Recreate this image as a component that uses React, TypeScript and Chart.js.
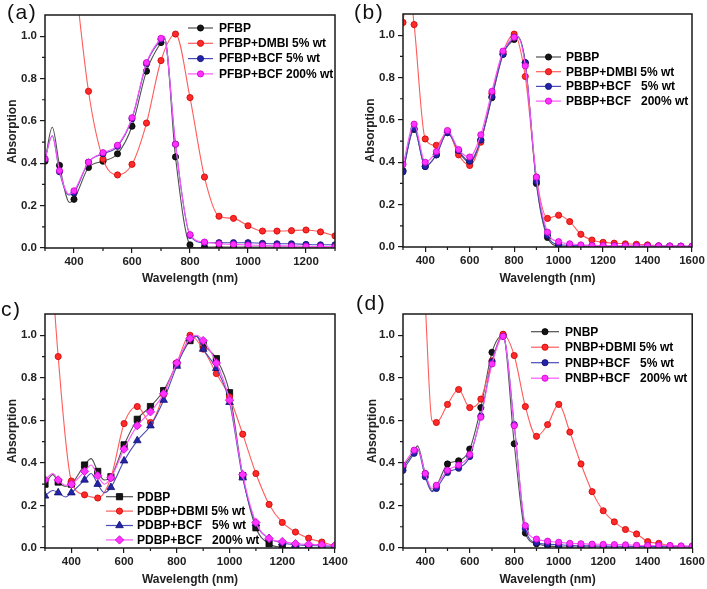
import React, { useEffect, useRef } from "react";
import { Chart, registerables } from "chart.js";
import { drawPoint } from "chart.js/helpers";
Chart.register(...registerables);

const FONT = "'Liberation Sans', Arial, sans-serif";
const AXIS = "#1a1a1a";
const TXT = "#222222";

// ---------- tick values ----------
const yTickVals = [0, 0.2, 0.4, 0.6, 0.8, 1.0];
const yMinorVals = [0.1, 0.3, 0.5, 0.7, 0.9];
const aXTicks = [400, 600, 800, 1000, 1200];
const aXMinor = [300, 500, 700, 900, 1100, 1300];
const bXTicks = [400, 600, 800, 1000, 1200, 1400, 1600];
const bXMinor = [300, 500, 700, 900, 1100, 1300, 1500];
const cXTicks = [400, 600, 800, 1000, 1200, 1400];
const cXMinor = [300, 500, 700, 900, 1100, 1300];
const dXTicks = [400, 600, 800, 1000, 1200, 1400, 1600];
const dXMinor = [300, 500, 700, 900, 1100, 1300, 1500];

// ---------- panel (a) ----------
const pfbpX = [300, 325, 350, 385, 400, 450, 500, 550, 600, 650, 700, 712, 750, 800, 825, 850, 900, 950, 1000, 1050, 1100, 1150, 1200, 1250, 1300];
const pfbpY = [0.41, 0.57, 0.39, 0.215, 0.23, 0.38, 0.41, 0.445, 0.575, 0.835, 0.97, 0.99, 0.43, 0.015, 0.0, 0.004, 0.004, 0.004, 0.004, 0.004, 0.004, 0.004, 0.004, 0.004, 0.004];
const pfbpDmbiX = [400, 450, 500, 550, 600, 650, 700, 750, 800, 850, 900, 950, 1000, 1050, 1100, 1150, 1200, 1250, 1300];
const pfbpDmbiY = [1.32, 0.74, 0.42, 0.345, 0.395, 0.59, 0.885, 1.01, 0.71, 0.335, 0.15, 0.14, 0.105, 0.08, 0.08, 0.082, 0.085, 0.076, 0.057];
const pfbpBcfX = [300, 325, 350, 382, 400, 450, 500, 550, 600, 650, 700, 710, 750, 800, 850, 900, 950, 1000, 1050, 1100, 1150, 1200, 1250, 1300];
const pfbpBcf5Y = [0.42, 0.53, 0.36, 0.25, 0.26, 0.405, 0.445, 0.48, 0.61, 0.87, 0.985, 1.0, 0.49, 0.06, 0.025, 0.025, 0.025, 0.025, 0.022, 0.02, 0.02, 0.017, 0.015, 0.015];
const pfbpBcf200Y = [0.42, 0.53, 0.365, 0.255, 0.27, 0.405, 0.45, 0.485, 0.615, 0.875, 0.99, 1.0, 0.49, 0.063, 0.028, 0.02, 0.017, 0.014, 0.012, 0.01, 0.01, 0.008, 0.007, 0.006];

// ---------- panel (b) ----------
const pbbpX = [300, 350, 400, 450, 500, 550, 600, 650, 700, 750, 800, 815, 850, 900, 950, 1000, 1050, 1100, 1150, 1200, 1250, 1300, 1350, 1400, 1450, 1500, 1550, 1600];
const pbbpY = [0.36, 0.555, 0.38, 0.435, 0.54, 0.45, 0.40, 0.505, 0.705, 0.91, 0.98, 0.99, 0.87, 0.30, 0.045, 0.005, 0.003, 0.002, 0.002, 0.002, 0.002, 0.002, 0.002, 0.002, 0.002, 0.002, 0.002, 0.002];
const pbbpDmbiX = [300, 325, 350, 400, 450, 500, 550, 600, 650, 700, 750, 800, 850, 900, 950, 1000, 1050, 1100, 1150, 1200, 1250, 1300, 1350, 1400, 1450, 1500, 1550, 1600];
const pbbpDmbiY = [1.06, 1.25, 1.05, 0.51, 0.48, 0.545, 0.435, 0.385, 0.495, 0.725, 0.92, 1.005, 0.805, 0.33, 0.135, 0.15, 0.12, 0.06, 0.033, 0.022, 0.018, 0.015, 0.013, 0.01, 0.006, 0.004, 0.003, 0.002];
const pbbpBcf5Y = [0.355, 0.56, 0.38, 0.435, 0.54, 0.455, 0.405, 0.505, 0.71, 0.91, 0.99, 0.995, 0.87, 0.31, 0.055, 0.012, 0.008, 0.006, 0.005, 0.005, 0.005, 0.004, 0.004, 0.004, 0.004, 0.004, 0.004, 0.003];
const pbbpBcf200Y = [0.39, 0.58, 0.40, 0.45, 0.55, 0.46, 0.425, 0.53, 0.735, 0.925, 0.99, 0.995, 0.855, 0.33, 0.07, 0.025, 0.015, 0.01, 0.008, 0.007, 0.006, 0.006, 0.005, 0.005, 0.005, 0.005, 0.004, 0.004];

// ---------- panel (c) ----------
const pdbpX = [300, 330, 350, 380, 400, 450, 475, 500, 525, 550, 600, 650, 700, 750, 800, 850, 875, 900, 950, 1000, 1050, 1100, 1150, 1200, 1250, 1300, 1350, 1400];
const pdbpY = [0.30, 0.345, 0.31, 0.29, 0.30, 0.39, 0.42, 0.36, 0.32, 0.335, 0.485, 0.605, 0.665, 0.74, 0.865, 0.975, 0.995, 0.955, 0.89, 0.73, 0.34, 0.095, 0.02, 0.003, 0.0, 0.0, 0.0, 0.0];
const pdbpDbmiX = [300, 350, 400, 450, 500, 550, 600, 650, 700, 750, 800, 850, 900, 950, 1000, 1050, 1100, 1150, 1200, 1250, 1300, 1350, 1400];
const pdbpDbmiY = [1.8, 0.90, 0.315, 0.25, 0.235, 0.33, 0.585, 0.665, 0.59, 0.72, 0.87, 1.0, 0.935, 0.82, 0.71, 0.535, 0.35, 0.205, 0.12, 0.075, 0.046, 0.028, 0.01];
const pdbpBcfX = [300, 330, 350, 378, 400, 450, 475, 500, 525, 550, 600, 650, 700, 750, 800, 850, 875, 900, 950, 1000, 1050, 1100, 1150, 1200, 1250, 1300, 1350, 1400];
const pdbpBcf5Y = [0.245, 0.27, 0.26, 0.24, 0.26, 0.32, 0.35, 0.30, 0.26, 0.285, 0.41, 0.505, 0.575, 0.695, 0.855, 0.985, 0.995, 0.935, 0.845, 0.685, 0.33, 0.115, 0.045, 0.025, 0.015, 0.012, 0.01, 0.008];
const pdbpBcf200Y = [0.32, 0.35, 0.32, 0.295, 0.30, 0.36, 0.39, 0.34, 0.30, 0.33, 0.465, 0.575, 0.64, 0.725, 0.87, 0.985, 1.0, 0.975, 0.87, 0.695, 0.345, 0.12, 0.045, 0.03, 0.02, 0.017, 0.015, 0.012];

// ---------- panel (d) ----------
const pnbpX = [300, 350, 365, 400, 430, 450, 500, 550, 600, 650, 700, 750, 800, 850, 900, 950, 1000, 1050, 1100, 1150, 1200, 1250, 1300, 1350, 1400, 1450, 1500, 1550, 1600];
const pnbpY = [0.38, 0.455, 0.48, 0.35, 0.27, 0.29, 0.395, 0.41, 0.465, 0.66, 0.92, 1.0, 0.49, 0.07, 0.02, 0.01, 0.006, 0.005, 0.005, 0.005, 0.005, 0.005, 0.005, 0.005, 0.005, 0.005, 0.005, 0.005, 0.005];
const pnbpDbmiX = [400, 430, 450, 500, 550, 600, 650, 700, 750, 800, 850, 900, 950, 1000, 1050, 1100, 1150, 1200, 1250, 1300, 1350, 1400, 1450, 1500, 1550, 1600];
const pnbpDbmiY = [1.15, 0.6, 0.59, 0.675, 0.745, 0.66, 0.70, 0.88, 1.005, 0.905, 0.665, 0.525, 0.58, 0.675, 0.545, 0.395, 0.265, 0.175, 0.123, 0.087, 0.066, 0.03, 0.022, 0.01, 0.005, 0.003];
const pnbpBcf5Y = [0.365, 0.445, 0.465, 0.335, 0.265, 0.28, 0.355, 0.375, 0.43, 0.62, 0.875, 0.995, 0.58, 0.09, 0.025, 0.018, 0.015, 0.012, 0.01, 0.01, 0.009, 0.008, 0.008, 0.007, 0.007, 0.006, 0.006, 0.005, 0.005];
const pnbpBcf200Y = [0.39, 0.46, 0.47, 0.35, 0.28, 0.295, 0.365, 0.39, 0.44, 0.615, 0.865, 0.995, 0.575, 0.105, 0.042, 0.032, 0.027, 0.022, 0.02, 0.018, 0.017, 0.016, 0.015, 0.013, 0.012, 0.012, 0.012, 0.01, 0.01];

const C = {
  black: { marker: "#151515", edge: "#000000", line: "#505050" },
  red: { marker: "#ff2b2b", edge: "#cc0000", line: "#ff5c5c" },
  blue: { marker: "#2424aa", edge: "#101070", line: "#4a4ab8" },
  magenta: { marker: "#ff33ff", edge: "#cc00cc", line: "#ff55ff" },
};

type Col = { marker: string; edge: string; line: string };
type S = { label: string; x: number[]; y: number[]; c: Col; style: string; r: number };
type Panel = {
  left: number; top: number; w: number; h: number;
  xMin: number; xMax: number; xTicks: number[]; xMinor: number[];
  yW: number; yPad: number; xH: number; xPad: number; padTop: number; padRight: number;
  lg: { lineX: number; lineLen: number; textX: number; y0: number; step: number };
  series: S[];
};

const R = 3.1;

const panels: Panel[] = [
  {
    left: 0, top: 0, w: 354, h: 292, xMin: 300, xMax: 1300, xTicks: aXTicks, xMinor: aXMinor,
    yW: 45, yPad: 5, xH: 44, xPad: 6, padTop: 15, padRight: 19,
    lg: { lineX: 188, lineLen: 25, textX: 219, y0: 28, step: 15.3 },
    series: [
      { label: "PFBP", x: pfbpX, y: pfbpY, c: C.black, style: "circle", r: R },
      { label: "PFBP+DMBI 5% wt", x: pfbpDmbiX, y: pfbpDmbiY, c: C.red, style: "circle", r: R },
      { label: "PFBP+BCF 5% wt", x: pfbpBcfX, y: pfbpBcf5Y, c: C.blue, style: "circle", r: R },
      { label: "PFBP+BCF 200% wt", x: pfbpBcfX, y: pfbpBcf200Y, c: C.magenta, style: "circle", r: R },
    ],
  },
  {
    left: 354, top: 0, w: 353, h: 292, xMin: 300, xMax: 1600, xTicks: bXTicks, xMinor: bXMinor,
    yW: 49, yPad: 9.5, xH: 45, xPad: 6, padTop: 14, padRight: 15,
    lg: { lineX: 182, lineLen: 25, textX: 212, y0: 57, step: 14.7 },
    series: [
      { label: "PBBP", x: pbbpX, y: pbbpY, c: C.black, style: "circle", r: R },
      { label: "PBBP+DMBI 5% wt", x: pbbpDmbiX, y: pbbpDmbiY, c: C.red, style: "circle", r: R },
      { label: "PBBP+BCF   5% wt", x: pbbpX, y: pbbpBcf5Y, c: C.blue, style: "circle", r: R },
      { label: "PBBP+BCF   200% wt", x: pbbpX, y: pbbpBcf200Y, c: C.magenta, style: "circle", r: R },
    ],
  },
  {
    left: 0, top: 292, w: 354, h: 297, xMin: 300, xMax: 1400, xTicks: cXTicks, xMinor: cXMinor,
    yW: 45, yPad: 5.5, xH: 41, xPad: 2, padTop: 22, padRight: 19,
    lg: { lineX: 106, lineLen: 27, textX: 137, y0: 204.7, step: 14.4 },
    series: [
      { label: "PDBP", x: pdbpX, y: pdbpY, c: C.black, style: "rect", r: 4.4 },
      { label: "PDBP+DBMI 5% wt", x: pdbpDbmiX, y: pdbpDbmiY, c: C.red, style: "circle", r: R },
      { label: "PDBP+BCF   5% wt", x: pdbpBcfX, y: pdbpBcf5Y, c: C.blue, style: "triangle", r: 4.4 },
      { label: "PDBP+BCF   200% wt", x: pdbpBcfX, y: pdbpBcf200Y, c: C.magenta, style: "rectRot", r: 4.2 },
    ],
  },
  {
    left: 354, top: 292, w: 353, h: 297, xMin: 300, xMax: 1600, xTicks: dXTicks, xMinor: dXMinor,
    yW: 49, yPad: 11, xH: 41, xPad: 2, padTop: 22, padRight: 14,
    lg: { lineX: 177, lineLen: 28, textX: 211, y0: 39.7, step: 15.5 },
    series: [
      { label: "PNBP", x: pnbpX, y: pnbpY, c: C.black, style: "circle", r: R },
      { label: "PNBP+DBMI 5% wt", x: pnbpDbmiX, y: pnbpDbmiY, c: C.red, style: "circle", r: R },
      { label: "PNBP+BCF   5% wt", x: pnbpX, y: pnbpBcf5Y, c: C.blue, style: "circle", r: R },
      { label: "PNBP+BCF   200% wt", x: pnbpX, y: pnbpBcf200Y, c: C.magenta, style: "circle", r: R },
    ],
  },
];

function makeChart(canvas: HTMLCanvasElement, p: Panel) {
  const tickFont = { family: FONT, size: 11.5, weight: "bold" as const };
  const titleFont = { family: FONT, size: 12, weight: "bold" as const };

  const framePlugin = {
    id: "frameAndMinor",
    afterDraw(chart: any) {
      const { ctx, chartArea: a, scales } = chart;
      ctx.save();
      ctx.strokeStyle = AXIS;
      ctx.lineWidth = 1.5;
      ctx.strokeRect(a.left, a.top, a.right - a.left, a.bottom - a.top);
      ctx.lineWidth = 1.2;
      ctx.beginPath();
      p.xMinor.forEach((v) => {
        const px = scales.x.getPixelForValue(v);
        ctx.moveTo(px, a.bottom);
        ctx.lineTo(px, a.bottom + 3);
      });
      yMinorVals.forEach((v) => {
        const py = scales.y.getPixelForValue(v);
        ctx.moveTo(a.left - 3, py);
        ctx.lineTo(a.left, py);
      });
      ctx.stroke();
      ctx.restore();
    },
  };

  const legendPlugin = {
    id: "insideLegend",
    afterDraw(chart: any) {
      const ctx = chart.ctx;
      const lg = p.lg;
      ctx.save();
      p.series.forEach((s, i) => {
        const y = lg.y0 + i * lg.step;
        ctx.strokeStyle = s.c.line;
        ctx.lineWidth = 1.2;
        ctx.beginPath();
        ctx.moveTo(lg.lineX, y);
        ctx.lineTo(lg.lineX + lg.lineLen, y);
        ctx.stroke();
        ctx.fillStyle = s.c.marker;
        ctx.strokeStyle = s.c.edge;
        ctx.lineWidth = 0.8;
        drawPoint(ctx, { pointStyle: s.style as any, radius: s.r, borderWidth: 0.8, rotation: 0 } as any, lg.lineX + lg.lineLen / 2, y);
        ctx.fillStyle = "#000";
        ctx.font = `bold 12px ${FONT}`;
        ctx.textAlign = "left";
        ctx.textBaseline = "middle";
        ctx.fillText(s.label, lg.textX, y + 0.5);
      });
      ctx.restore();
    },
  };

  const n = p.series.length;
  return new Chart(canvas, {
    type: "line",
    data: {
      datasets: p.series.map((s, i) => ({
        label: s.label,
        data: s.x.map((xv, k) => ({ x: xv, y: s.y[k] })),
        borderColor: s.c.line,
        backgroundColor: s.c.marker,
        pointBackgroundColor: s.c.marker,
        pointBorderColor: s.c.edge,
        pointBorderWidth: 0.8,
        pointStyle: s.style as any,
        pointRadius: (ctx: any) => {
          const raw = ctx.raw;
          return raw && Math.round(raw.x) % 50 === 0 ? s.r : 0;
        },
        pointHoverRadius: 0,
        borderWidth: 1.1,
        cubicInterpolationMode: "monotone" as const,
        fill: false,
        clip: 0 as any,
        order: n - 1 - i,
      })),
    },
    options: {
      animation: false,
      responsive: false,
      events: [],
      layout: { padding: { top: p.padTop, right: p.padRight, left: 0, bottom: 0 } },
      plugins: { legend: { display: false }, tooltip: { enabled: false } },
      scales: {
        x: {
          type: "linear",
          min: p.xMin,
          max: p.xMax,
          afterBuildTicks: (s: any) => {
            s.ticks = p.xTicks.map((v) => ({ value: v }));
          },
          afterFit: (s: any) => {
            s.height = p.xH;
          },
          grid: { drawOnChartArea: false, drawTicks: true, tickLength: 5, color: AXIS, lineWidth: 1.2 },
          border: { display: false },
          ticks: { font: tickFont, color: TXT, padding: 2, maxRotation: 0, autoSkip: false, callback: (v: any) => String(v) },
          title: { display: true, text: "Wavelength (nm)", font: titleFont, color: TXT, padding: { top: 0, bottom: p.xPad } },
        },
        y: {
          type: "linear",
          min: 0,
          max: 1.1,
          afterBuildTicks: (s: any) => {
            s.ticks = yTickVals.map((v) => ({ value: v }));
          },
          afterFit: (s: any) => {
            s.width = p.yW;
          },
          grid: { drawOnChartArea: false, drawTicks: true, tickLength: 5, color: AXIS, lineWidth: 1.2 },
          border: { display: false },
          ticks: { font: tickFont, color: TXT, padding: 3, autoSkip: false, callback: (v: any) => Number(v).toFixed(1) },
          title: { display: true, text: "Absorption", font: titleFont, color: TXT, padding: { top: p.yPad, bottom: 0 } },
        },
      },
    },
    plugins: [framePlugin, legendPlugin],
  } as any);
}

function PanelChart({ p }: { p: Panel }) {
  const ref = useRef<HTMLCanvasElement | null>(null);
  useEffect(() => {
    if (!ref.current) return;
    const ch = makeChart(ref.current, p);
    return () => ch.destroy();
  }, [p]);
  return (
    <canvas
      ref={ref}
      width={p.w}
      height={p.h}
      style={{ position: "absolute", left: p.left, top: p.top, width: p.w, height: p.h }}
    />
  );
}

const labelStyle: React.CSSProperties = {
  position: "absolute",
  fontFamily: FONT,
  fontSize: 21,
  lineHeight: "21px",
  letterSpacing: 1.5,
  color: "#111",
  whiteSpace: "nowrap",
};

export default function App() {
  return (
    <div style={{ position: "absolute", left: 0, top: 0, width: 707, height: 589, background: "#fff", overflow: "hidden" }}>
      {panels.map((p, i) => (
        <PanelChart key={i} p={p} />
      ))}
      <div style={{ ...labelStyle, left: 7, top: 1 }}>(a)</div>
      <div style={{ ...labelStyle, left: 354, top: 1 }}>(b)</div>
      <div style={{ position: "absolute", left: 0, top: 302, width: 40, height: 20, overflow: "hidden" }}>
        <div style={{ ...labelStyle, left: 1, top: -4 }}>c)</div>
      </div>
      <div style={{ ...labelStyle, left: 356, top: 292 }}>(d)</div>
    </div>
  );
}
